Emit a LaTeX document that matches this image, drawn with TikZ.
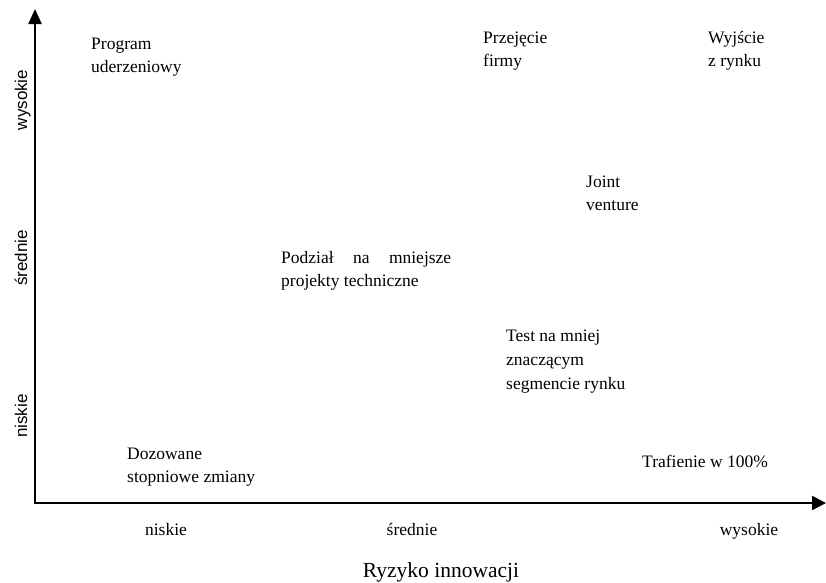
\documentclass[tikz,border=0pt]{standalone}
\usepackage{fontspec}
\setmainfont{Liberation Serif}
\newfontfamily\axisfont{Liberation Sans}
\usetikzlibrary{arrows.meta}
\begin{document}
\begin{tikzpicture}[x=1pt,y=-1pt,
  axisline/.style={line width=2.2pt,
    {Triangle[length=15pt,width=13pt]}-{Triangle[length=14pt,width=14pt]}},
  % multi-line texts are placed by the baseline of their last line
  fieldtext/.style={anchor=base west, inner sep=0pt, align=left,
    font=\fontsize{17.5}{23}\selectfont},
  ticktext/.style={anchor=base, inner sep=0pt,
    font=\fontsize{17.5}{21}\selectfont},
  sidetext/.style={anchor=base, inner sep=0pt, rotate=90,
    font=\axisfont\fontsize{17}{20}\selectfont},
  titletext/.style={anchor=base, inner sep=0pt,
    font=\fontsize{21.5}{26}\selectfont}]
\useasboundingbox (0,0) rectangle (826,582);

% axes
\coordinate (origin) at (35,503);
\coordinate (ytip) at (35,9);
\coordinate (xtip) at (826,503);
\draw[axisline] (ytip) -- (origin) -- (xtip);

% strategies in the field
\node[fieldtext] (program) at (91,72) {Program\\uderzeniowy};
\node[fieldtext] (przejecie) at (483,66) {Przejęcie\\firmy};
\node[fieldtext] (wyjscie) at (708,66) {Wyjście\\z rynku};
\node[fieldtext] (joint) at (586,210) {Joint\\venture};
\node[fieldtext] (podzial) at (281,286)
  {\makebox[170pt][s]{Podział na mniejsze}\\projekty techniczne};
\node[fieldtext, font=\fontsize{17.5}{24}\selectfont] (test) at (506,389)
  {Test na mniej\\znaczącym\\segmencie rynku};
\node[fieldtext] (trafienie) at (642,467) {Trafienie w 100\%};
\node[fieldtext] (dozowane) at (127,482) {Dozowane\\stopniowe zmiany};

% horizontal axis labels
\node[ticktext] (xlow) at (166,535) {niskie};
\node[ticktext] (xmid) at (412,535) {średnie};
\node[ticktext] (xhigh) at (749,535) {wysokie};
\node[titletext] (xtitle) at (441,577) {Ryzyko innowacji};

% vertical axis labels
\node[sidetext] (ylow) at (27,416) {niskie};
\node[sidetext] (ymid) at (27,258) {średnie};
\node[sidetext] (yhigh) at (27,100) {wysokie};
\end{tikzpicture}
\end{document}
